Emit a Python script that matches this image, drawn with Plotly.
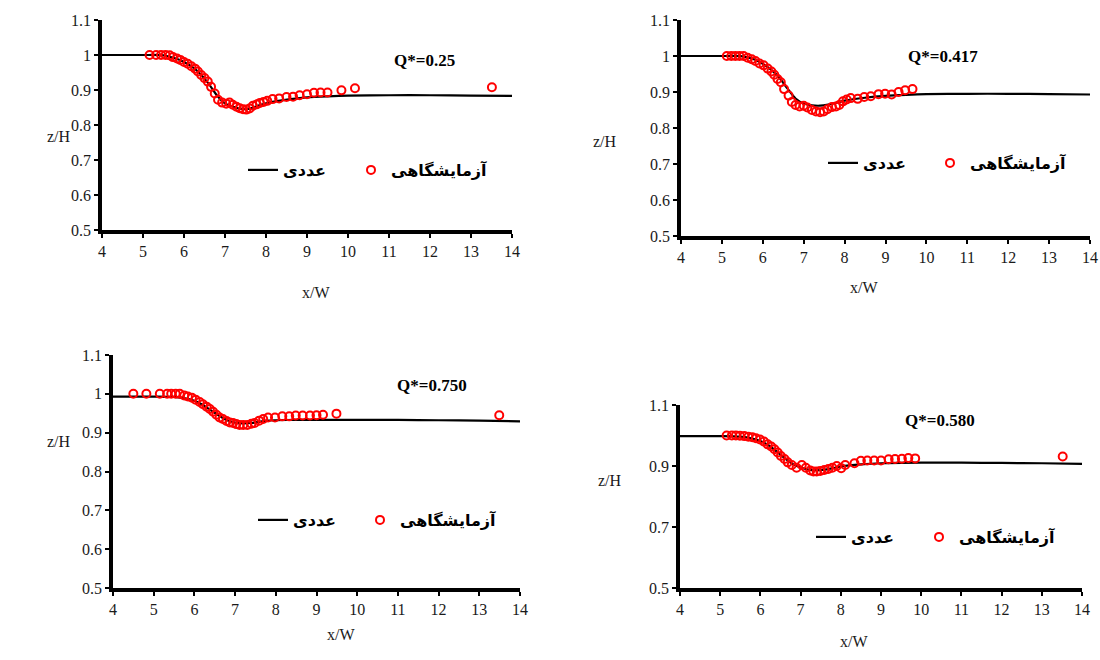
import plotly.graph_objects as go

# ---------------- data ----------------
num_label = "عددی"
exp_label = "آزمایشگاهی"
titles = ["Q*=0.25", "Q*=0.417", "Q*=0.750", "Q*=0.580"]

# Panel 1 (Q*=0.25)
p1_line_x = [4, 5, 5.5, 5.8, 6.0, 6.2, 6.4, 6.6, 6.8, 7.0, 7.2, 7.4, 7.6, 7.8, 8.0, 8.3, 8.6, 9.0, 9.5, 10, 11, 12, 13, 14]
p1_line_y = [1.0, 1.0, 0.999, 0.99, 0.98, 0.966, 0.946, 0.918, 0.885, 0.862, 0.852, 0.846, 0.847, 0.855, 0.862, 0.869, 0.874, 0.879, 0.882, 0.884, 0.885, 0.885, 0.884, 0.883]
p1_exp_x = [5.16, 5.32, 5.44, 5.55, 5.65, 5.73, 5.83, 5.91, 6.0, 6.09, 6.18, 6.27, 6.34, 6.42, 6.5, 6.58, 6.66, 6.75, 6.83, 6.93,
            7.03, 7.11, 7.19, 7.28, 7.36, 7.44, 7.52, 7.6, 7.68, 7.77, 7.85, 7.94, 8.03, 8.16, 8.32, 8.5, 8.66, 8.82, 9.0, 9.17,
            9.33, 9.5, 9.84, 10.17, 13.51]
p1_exp_y = [1.0, 1.0, 1.0, 1.0, 0.999, 0.994, 0.99, 0.986, 0.98, 0.975, 0.968, 0.961, 0.953, 0.943, 0.934, 0.924, 0.909, 0.89, 0.872, 0.864,
            0.861, 0.864, 0.858, 0.852, 0.848, 0.845, 0.844, 0.847, 0.855, 0.859, 0.863, 0.866, 0.869, 0.874, 0.876, 0.88, 0.881, 0.885, 0.888, 0.892,
            0.893, 0.893, 0.899, 0.905, 0.908]

# Panel 2 (Q*=0.417)
p2_line_x = [4, 5, 5.5, 5.8, 6.0, 6.2, 6.4, 6.6, 6.8, 7.0, 7.2, 7.4, 7.6, 7.8, 8.0, 8.5, 9.0, 9.5, 10, 11, 12, 13, 14]
p2_line_y = [1.0, 1.0, 0.999, 0.99, 0.978, 0.962, 0.94, 0.91, 0.882, 0.868, 0.863, 0.862, 0.865, 0.87, 0.876, 0.884, 0.889, 0.892, 0.894, 0.895, 0.895, 0.894, 0.893]
p2_exp_x = [5.12, 5.23, 5.33, 5.43, 5.53, 5.63, 5.73, 5.82, 5.92, 6.02, 6.12, 6.21, 6.28, 6.36, 6.44, 6.52, 6.63, 6.71, 6.8, 6.9,
            7.0, 7.09, 7.2, 7.3, 7.4, 7.49, 7.58, 7.69, 7.79, 7.87, 7.96, 8.05, 8.15, 8.32, 8.48, 8.64, 8.83, 8.99, 9.15, 9.32,
            9.48, 9.66]
p2_exp_y = [1.0, 1.0, 1.0, 1.0, 1.0, 0.995, 0.991, 0.986, 0.979, 0.974, 0.965, 0.957, 0.948, 0.936, 0.927, 0.908, 0.89, 0.872, 0.864, 0.86,
            0.862, 0.857, 0.85, 0.846, 0.844, 0.846, 0.852, 0.858, 0.86, 0.864, 0.874, 0.879, 0.883, 0.881, 0.886, 0.888, 0.894, 0.895, 0.893, 0.9,
            0.905, 0.908]

# Panel 3 (Q*=0.750)
p3_line_x = [4, 5, 5.5, 5.8, 6.0, 6.2, 6.4, 6.6, 6.8, 7.0, 7.2, 7.4, 7.6, 7.8, 8.0, 8.5, 9, 10, 11, 12, 13, 14]
p3_line_y = [0.993, 0.993, 0.992, 0.988, 0.982, 0.972, 0.958, 0.944, 0.932, 0.926, 0.924, 0.925, 0.928, 0.931, 0.932, 0.933, 0.933, 0.933, 0.933, 0.932, 0.931, 0.929]
p3_exp_x = [4.5, 4.82, 5.15, 5.33, 5.43, 5.54, 5.64, 5.75, 5.84, 5.94, 6.03, 6.13, 6.21, 6.3, 6.38, 6.46, 6.54, 6.62, 6.7, 6.79,
            6.87, 6.95, 7.03, 7.11, 7.2, 7.3, 7.4, 7.48, 7.59, 7.69, 7.81, 7.98, 8.16, 8.33, 8.49, 8.66, 8.84, 9.0, 9.16, 9.49,
            13.49]
p3_exp_y = [1.0, 1.0, 1.0, 1.0, 1.0, 1.0, 1.0, 0.996, 0.993, 0.99, 0.985, 0.979, 0.973, 0.967, 0.961, 0.954, 0.946, 0.939, 0.935, 0.93,
            0.926, 0.925, 0.922, 0.92, 0.92, 0.92, 0.923, 0.925, 0.931, 0.935, 0.939, 0.939, 0.942, 0.942, 0.944, 0.944, 0.944, 0.945, 0.946, 0.949,
            0.945]

# Panel 4 (Q*=0.580)
p4_line_x = [4, 5, 5.5, 5.8, 6.0, 6.2, 6.4, 6.6, 6.8, 7.0, 7.2, 7.4, 7.6, 7.8, 8.0, 8.5, 9, 10, 11, 12, 13, 14]
p4_line_y = [0.998, 0.998, 0.996, 0.99, 0.982, 0.968, 0.948, 0.926, 0.907, 0.895, 0.888, 0.886, 0.888, 0.893, 0.898, 0.905, 0.909, 0.911, 0.911, 0.91, 0.909, 0.907]
p4_exp_x = [5.16, 5.29, 5.39, 5.49, 5.6, 5.7, 5.8, 5.89, 5.99, 6.09, 6.18, 6.27, 6.35, 6.43, 6.51, 6.6, 6.68, 6.78, 6.9, 7.03,
            7.13, 7.24, 7.32, 7.4, 7.49, 7.59, 7.69, 7.79, 7.9, 8.01, 8.11, 8.34, 8.5, 8.66, 8.83, 9.0, 9.19, 9.35, 9.52, 9.68,
            9.85, 13.52]
p4_exp_y = [1.0, 1.0, 1.0, 0.999, 0.998, 0.996, 0.994, 0.991, 0.987, 0.98, 0.971, 0.964, 0.955, 0.944, 0.933, 0.923, 0.912, 0.903, 0.894, 0.903,
            0.894, 0.885, 0.882, 0.882, 0.884, 0.887, 0.89, 0.894, 0.9, 0.893, 0.903, 0.909, 0.917, 0.918, 0.918, 0.918, 0.922, 0.923, 0.924, 0.926,
            0.925, 0.931]

x_ticks = [4, 5, 6, 7, 8, 9, 10, 11, 12, 13, 14]

panels = [
    (p1_line_x, p1_line_y, p1_exp_x, p1_exp_y),
    (p2_line_x, p2_line_y, p2_exp_x, p2_exp_y),
    (p3_line_x, p3_line_y, p3_exp_x, p3_exp_y),
    (p4_line_x, p4_line_y, p4_exp_x, p4_exp_y),
]

# ---------------- layout geometry (pixels) ----------------
W, H = 1100, 660
# (left, right, top, bottom) of each plot area
boxes = [(102, 512, 20, 230), (681, 1090, 20, 236), (113, 520, 355, 588), (680, 1082, 405, 588)]
y_dticks = [0.1, 0.1, 0.1, 0.2]
# (numeric-entry x, experimental-entry x, y)
legend_pos = [(243, 351, 170), (823, 930, 163), (253, 360, 520), (811, 919, 537)]
title_pos = [(424, 49), (980, 45), (432, 385), (977, 420)]
zh_pos = [(45, 126), (605, 131), (45, 452), (610, 491)]
xw_pos = [(300, 292), (880, 287), (325, 645), (870, 652)]

def px(x):
    return x / W

def py(y):
    return 1 - y / H

serif = "Liberation Serif, Times New Roman, serif"
arabic = "DejaVu Sans, Arial, sans-serif"

fig = go.Figure()
layout = dict(
    width=W, height=H, margin=dict(l=0, r=0, t=0, b=0, autoexpand=False),
    paper_bgcolor="white", plot_bgcolor="white", showlegend=True,
    annotations=[],
)

def legend_box(x, y):
    return dict(
        x=px(x), y=py(y), xanchor="left", yanchor="middle",
        orientation="h", bgcolor="rgba(0,0,0,0)", visible=True,
        font=dict(family=arabic, size=16, color="black", weight="bold"),
    )

for i, (lx, ly, ex, ey) in enumerate(panels):
    n = "" if i == 0 else str(i + 1)
    leg_a = "legend" if i == 0 else "legend" + str(2 * i + 1)
    leg_b = "legend" + str(2 * i + 2)
    fig.add_trace(go.Scatter(
        x=lx, y=ly, mode="lines", name=num_label, showlegend=True,
        line=dict(color="black", width=2.2, shape="spline", smoothing=0.8),
        xaxis="x" + n, yaxis="y" + n, legend=leg_a,
    ))
    fig.add_trace(go.Scatter(
        x=ex, y=ey, mode="markers", name=exp_label, showlegend=True,
        marker=dict(symbol="circle-open", size=8, color="#ff0000", line=dict(width=2, color="#ff0000")),
        xaxis="x" + n, yaxis="y" + n, legend=leg_b,
    ))
    l, r, t, b = boxes[i]
    axis_common = dict(
        showline=True, linecolor="black", linewidth=3.5, mirror=False,
        ticks="outside", ticklen=4, tickwidth=2, tickcolor="black",
        showgrid=False, zeroline=False, automargin=False,
        tickfont=dict(family=serif, size=16, color="#1a1a1a"),
    )
    layout["xaxis" + n] = dict(
        domain=[px(l), px(r)], range=[4, 14], tickvals=x_ticks,
        anchor="y" + n, **axis_common,
    )
    layout["yaxis" + n] = dict(
        domain=[py(b), py(t)], range=[0.5, 1.1], dtick=y_dticks[i], tick0=0.5,
        anchor="x" + n, **axis_common,
    )
    ax_, bx_, ly_ = legend_pos[i]
    layout[leg_a] = legend_box(ax_, ly_)
    layout[leg_b] = legend_box(bx_, ly_)
    tx, ty = title_pos[i]
    layout["annotations"].append(dict(
        x=px(tx), y=py(ty), xref="paper", yref="paper", showarrow=False,
        text="<b>" + titles[i] + "</b>", font=dict(family=serif, size=17, color="black"),
    ))
    zx, zy = zh_pos[i]
    layout["annotations"].append(dict(
        x=px(zx), y=py(zy), xref="paper", yref="paper", showarrow=False,
        text="z/H", font=dict(family=serif, size=16, color="#1a1a1a"),
    ))
    wx, wy = xw_pos[i]
    layout["annotations"].append(dict(
        x=px(wx), y=py(wy), xref="paper", yref="paper", showarrow=False,
        text="x/W", font=dict(family=serif, size=16, color="#1a1a1a"),
    ))

fig.update_layout(**layout)
fig.write_html("out.html")
